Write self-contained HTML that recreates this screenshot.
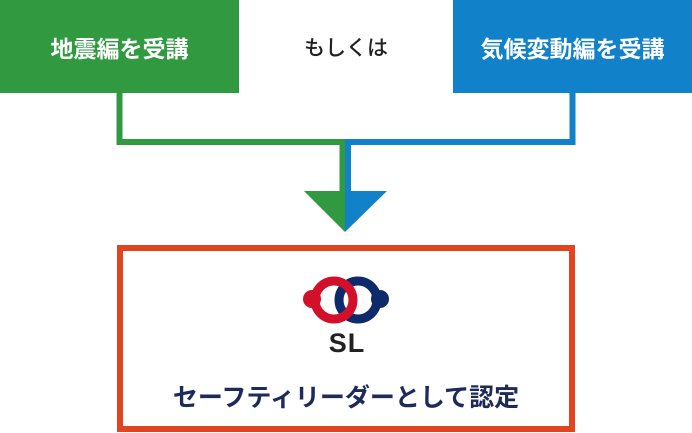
<!DOCTYPE html>
<html><head><meta charset="utf-8"><style>
html,body{margin:0;padding:0;background:#fff;}
body{width:692px;height:433px;position:relative;overflow:hidden;font-family:"Liberation Sans","Noto Sans CJK JP",sans-serif;}
.box{position:absolute;top:0;height:93px;color:#fff;font-weight:bold;font-size:23px;display:flex;align-items:center;justify-content:center;}
</style></head><body>
<div class="box" style="left:0;width:239px;background:#319a41;">地震編を受講</div>
<div class="box" style="left:453px;width:239px;background:#1182c9;">気候変動編を受講</div>
<div style="position:absolute;left:239px;width:214px;top:0;height:93px;display:flex;align-items:center;justify-content:center;font-size:21px;color:#222;font-weight:500;">もしくは</div>
<svg width="692" height="433" style="position:absolute;left:0;top:0">
<polyline points="119.5,93 119.5,142 342.5,142 342.5,192" fill="none" stroke="#319a41" stroke-width="6"/>
<polyline points="572.5,93 572.5,142 348,142 348,192" fill="none" stroke="#1182c9" stroke-width="6"/>
<polygon points="304,191 345,191 345,232" fill="#319a41"/>
<polygon points="345,191 387,191 345,232" fill="#1182c9"/>
<rect x="120" y="248" width="452" height="181" fill="none" stroke="#e1441f" stroke-width="6"/>
<circle cx="312" cy="299" r="9" fill="#d3102a"/>
<circle cx="380" cy="299" r="9" fill="#0d2a6b"/>
<circle cx="358" cy="300" r="19" fill="none" stroke="#0d2a6b" stroke-width="9"/>
<circle cx="334" cy="300" r="19" fill="none" stroke="#d3102a" stroke-width="9"/>
<text x="347" y="352" text-anchor="middle" font-family="Liberation Sans" font-weight="bold" font-size="27" letter-spacing="1" fill="#222">SL</text>
<text x="346" y="406" text-anchor="middle" font-family="Liberation Sans, Noto Sans CJK JP, sans-serif" font-weight="bold" font-size="25" fill="#1d2a5a">セーフティリーダーとして認定</text>
</svg>
</body></html>
